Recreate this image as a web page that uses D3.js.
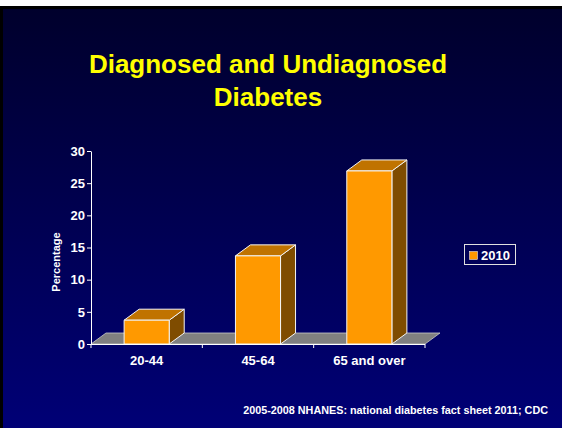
<!DOCTYPE html>
<html>
<head>
<meta charset="utf-8">
<script src="https://cdn.jsdelivr.net/npm/d3@7/dist/d3.min.js"></script>
<style>
  html, body { margin: 0; padding: 0; background: #fff; }
  svg { display: block; font-family: "Liberation Sans", Arial, sans-serif; }
</style>
</head>
<body>
<svg id="chart" width="563" height="428"></svg>
<script>
// Prevalence of diagnosed and undiagnosed diabetes by age group
const categories = ["20-44", "45-64", "65 and over"];
const values2010 = [3.7, 13.7, 26.9];
const seriesName = "2010";
const yTicks = [0, 5, 10, 15, 20, 25, 30];

const svg = d3.select("#chart");
const W = 563, H = 428;

// slide background: white strip, dark frame and a navy gradient
const defs = svg.append("defs");
const grad = defs.append("linearGradient")
  .attr("id", "bg").attr("x1", 0).attr("y1", 0).attr("x2", 0).attr("y2", 1);
grad.append("stop").attr("offset", "0%").attr("stop-color", "#00002c");
grad.append("stop").attr("offset", "100%").attr("stop-color", "#000076");

svg.append("rect").attr("width", W).attr("height", H).attr("fill", "#ffffff");
svg.append("rect").attr("x", 0).attr("y", 6).attr("width", W - 1).attr("height", H - 6).attr("fill", "#000000");
svg.append("rect").attr("x", 3).attr("y", 9).attr("width", W - 4).attr("height", H - 9).attr("fill", "url(#bg)");

// title
const title = svg.append("text")
  .attr("text-anchor", "middle")
  .attr("fill", "#ffff00")
  .attr("font-weight", "bold")
  .attr("font-size", 26);
title.append("tspan").attr("x", 268).attr("y", 73).text("Diagnosed and Undiagnosed");
title.append("tspan").attr("x", 268).attr("y", 106).text("Diabetes");

// scales
const x = d3.scaleBand().domain(categories).range([91, 425]).padding(0);
const y = d3.scaleLinear().domain([0, 30]).range([344, 151]);
const dx = 15, dy = -11;
const barW = x.bandwidth() * 0.405;

// floor
const x0 = x.range()[0], x1 = x.range()[1], y0 = y(0);
svg.append("polygon")
  .attr("points", [[x0, y0], [x1, y0], [x1 + dx, y0 + dy], [x0 + dx, y0 + dy]].map(p => p.join(",")).join(" "))
  .attr("fill", "#808080")
  .attr("stroke", "#c8c8c8")
  .attr("stroke-width", 0.8);

// bars
const bars = svg.append("g");
categories.forEach((c, i) => {
  const v = values2010[i];
  const bx0 = x(c) + (x.bandwidth() - barW) / 2;
  const bx1 = bx0 + barW;
  const yt = y(v);
  const g = bars.append("g").attr("stroke", "#f4f4f4").attr("stroke-width", 1).attr("stroke-linejoin", "round");
  g.append("polygon")
    .attr("points", [[bx1, yt], [bx1 + dx, yt + dy], [bx1 + dx, y0 + dy], [bx1, y0]].map(p => p.join(",")).join(" "))
    .attr("fill", "#7f4c00");
  g.append("polygon")
    .attr("points", [[bx0, yt], [bx1, yt], [bx1 + dx, yt + dy], [bx0 + dx, yt + dy]].map(p => p.join(",")).join(" "))
    .attr("fill", "#c07300");
  g.append("rect")
    .attr("x", bx0).attr("y", yt).attr("width", barW).attr("height", y0 - yt)
    .attr("fill", "#ff9900");
});

// y axis
const yAxis = svg.append("g")
  .attr("transform", `translate(${x0},0)`)
  .call(d3.axisLeft(y).tickValues(yTicks).tickSize(4).tickPadding(2).tickSizeOuter(0));
yAxis.selectAll("path, line").attr("stroke", "#ffffff");
yAxis.selectAll("text")
  .attr("fill", "#ffffff")
  .attr("font-size", 13)
  .attr("font-weight", "bold")
  .attr("font-family", "Liberation Sans, Arial, sans-serif");

// x axis line with ticks at category boundaries
const xa = svg.append("g").attr("stroke", "#ffffff").attr("stroke-width", 1);
xa.append("line").attr("x1", x0).attr("x2", x1).attr("y1", y0 + 0.5).attr("y2", y0 + 0.5);
const bounds = categories.map(c => x(c)).concat([x1]);
bounds.forEach(b => {
  xa.append("line").attr("x1", b).attr("x2", b).attr("y1", y0).attr("y2", y0 + 4);
});
svg.append("g").selectAll("text").data(categories).join("text")
  .attr("x", c => x(c) + x.bandwidth() / 2)
  .attr("y", 365)
  .attr("text-anchor", "middle")
  .attr("fill", "#ffffff")
  .attr("font-size", 13)
  .attr("font-weight", "bold")
  .text(c => c);

// y axis title
svg.append("text")
  .attr("transform", "translate(60,262) rotate(-90)")
  .attr("text-anchor", "middle")
  .attr("fill", "#ffffff")
  .attr("font-size", 11)
  .attr("font-weight", "bold")
  .text("Percentage");

// legend
const lg = svg.append("g");
lg.append("rect").attr("x", 464.5).attr("y", 244.5).attr("width", 51).attr("height", 20)
  .attr("fill", "none").attr("stroke", "#e0e0e0").attr("stroke-width", 1);
lg.append("rect").attr("x", 469.5).attr("y", 251.5).attr("width", 8).attr("height", 8)
  .attr("fill", "#ff9900").attr("stroke", "#ffffff").attr("stroke-width", 0.5);
lg.append("text").attr("x", 481).attr("y", 260)
  .attr("fill", "#ffffff").attr("font-size", 13).attr("font-weight", "bold")
  .text(seriesName);

// source note
svg.append("text")
  .attr("x", 548).attr("y", 414)
  .attr("text-anchor", "end")
  .attr("fill", "#ffffff")
  .attr("font-size", 10.8)
  .attr("font-weight", "bold")
  .text("2005-2008 NHANES: national diabetes fact sheet 2011; CDC");
</script>
</body>
</html>
